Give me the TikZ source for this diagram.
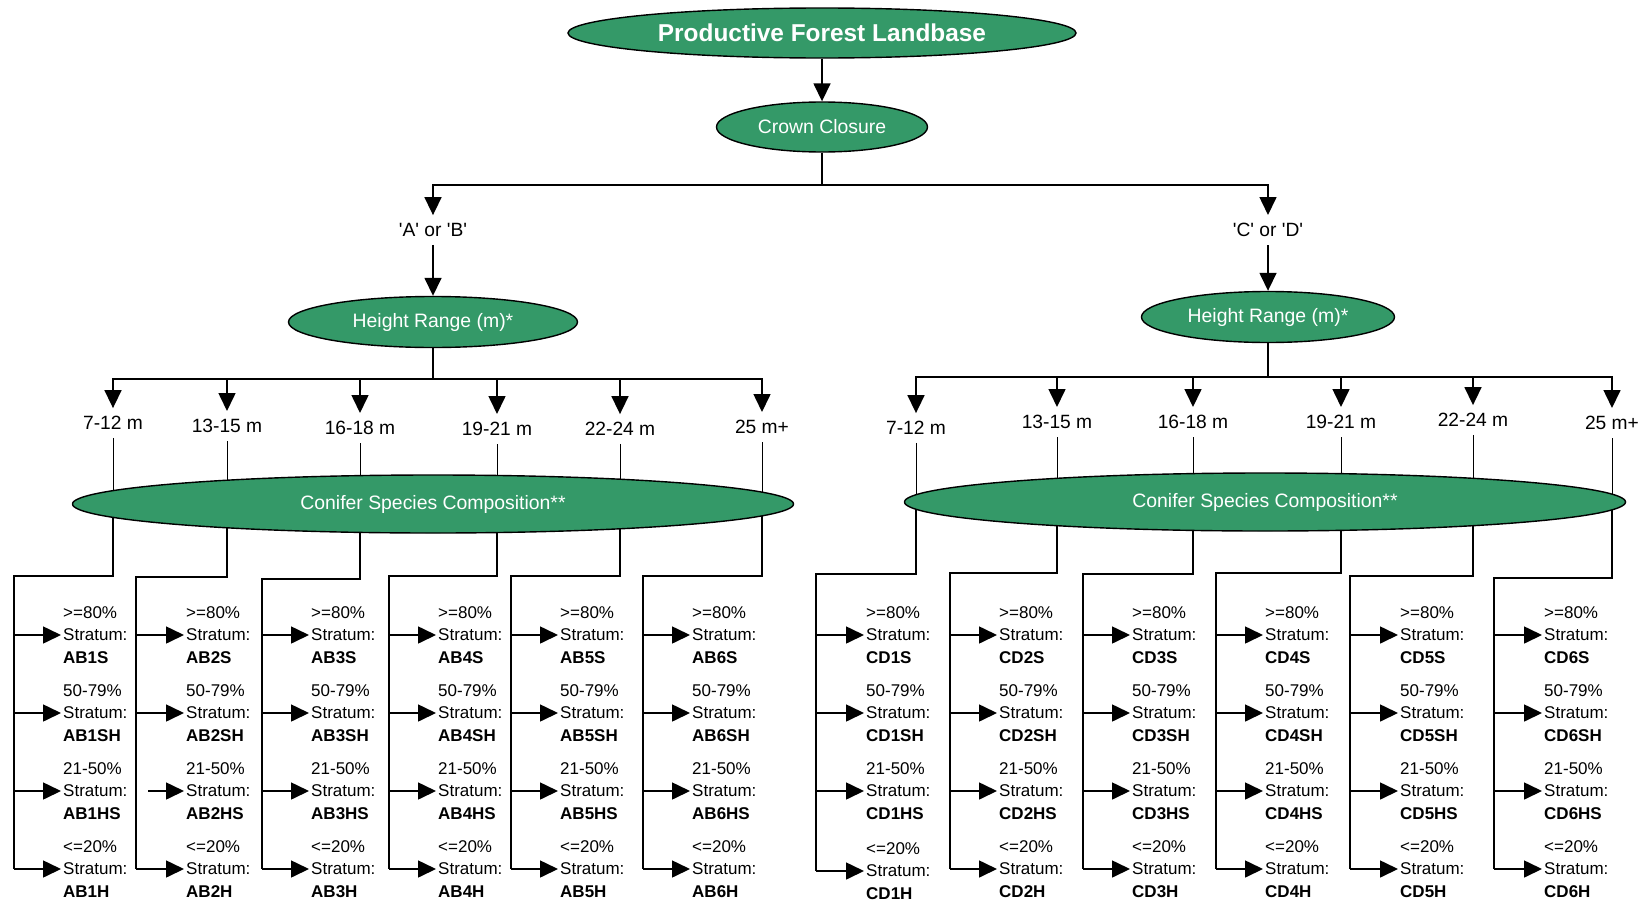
\documentclass[tikz,border=0pt]{standalone}
\usepackage{fontspec}
\setmainfont{Liberation Sans}
\usepackage{tikz}
\usetikzlibrary{shapes.geometric,arrows.meta,backgrounds}
\definecolor{forestgreen}{RGB}{52,153,104}
\newcommand{\linew}{1.6pt}
\newcommand{\q}{\textquotesingle}
\tikzset{
  ell/.style={ellipse, draw=black, line width=1.4pt, fill=forestgreen, text=white, inner sep=0pt, font=\fontsize{19.4}{22}\selectfont},
  lbl/.style={inner xsep=2pt, inner ysep=8pt, font=\fontsize{19.2}{22}\selectfont},
  strat/.style={anchor=west, align=left, inner xsep=2pt, inner ysep=0pt, font=\fontsize{17}{22.5}\selectfont},
  arr/.style={-{Triangle[length=18pt,width=17pt]}, line width=\linew},
  conn/.style={line width=\linew},
  thinconn/.style={line width=1pt}
}

\begin{document}
\begin{tikzpicture}[x=1pt,y=-1pt]
\useasboundingbox (0,0) rectangle (1646,902);
\node[ell, minimum width=508pt, minimum height=50pt, font=\fontsize{24.4}{28}\selectfont\bfseries] (pfl) at (822,33) {Productive Forest Landbase};
\node[ell, minimum width=211pt, minimum height=50pt] (cc) at (822,127) {Crown Closure};
\node[lbl] (ab) at (433,230) {\q A\q{} or \q B\q};
\node[lbl] (cd) at (1268,230) {\q C\q{} or \q D\q};
\node[ell, minimum width=289pt, minimum height=51pt] (hrab) at (433,322) {Height Range (m)*};
\node[ell, minimum width=253pt, minimum height=51pt] (hrcd) at (1268,317) {Height Range (m)*};
\node[ell, minimum width=721pt, minimum height=58pt] (csab) at (433,504) {Conifer Species Composition**};
\node[ell, minimum width=721pt, minimum height=58pt] (cscd) at (1265,502) {Conifer Species Composition**};
%height ranges
\node[lbl] (ab1) at (113,423) {7-12 m};
\node[lbl] (ab2) at (227,426) {13-15 m};
\node[lbl] (ab3) at (360,428) {16-18 m};
\node[lbl] (ab4) at (497,429) {19-21 m};
\node[lbl] (ab5) at (620,429) {22-24 m};
\node[lbl] (ab6) at (762,427) {25 m+};
\node[lbl] (cd1) at (916,428) {7-12 m};
\node[lbl] (cd2) at (1057,422) {13-15 m};
\node[lbl] (cd3) at (1193,422) {16-18 m};
\node[lbl] (cd4) at (1341,422) {19-21 m};
\node[lbl] (cd5) at (1473,420) {22-24 m};
\node[lbl] (cd6) at (1612,423) {25 m+};
%trunks
\coordinate (tab1) at (14,576);
\coordinate (tab2) at (136,577);
\coordinate (tab3) at (262,579);
\coordinate (tab4) at (389,576);
\coordinate (tab5) at (511,576);
\coordinate (tab6) at (643,576);
\coordinate (tcd1) at (816,574);
\coordinate (tcd2) at (950,573);
\coordinate (tcd3) at (1083,574);
\coordinate (tcd4) at (1216,573);
\coordinate (tcd5) at (1350,576);
\coordinate (tcd6) at (1494,578);
%AB1
\node[strat] (ab1a) at (61,635) {>=80\%\\Stratum:\\\textbf{AB1S}};
\node[strat] (ab1b) at (61,713) {50-79\%\\Stratum:\\\textbf{AB1SH}};
\node[strat] (ab1c) at (61,791) {21-50\%\\Stratum:\\\textbf{AB1HS}};
\node[strat] (ab1d) at (61,869) {<=20\%\\Stratum:\\\textbf{AB1H}};
%AB2
\node[strat] (ab2a) at (184,635) {>=80\%\\Stratum:\\\textbf{AB2S}};
\node[strat] (ab2b) at (184,713) {50-79\%\\Stratum:\\\textbf{AB2SH}};
\node[strat] (ab2c) at (184,791) {21-50\%\\Stratum:\\\textbf{AB2HS}};
\node[strat] (ab2d) at (184,869) {<=20\%\\Stratum:\\\textbf{AB2H}};
%AB3
\node[strat] (ab3a) at (309,635) {>=80\%\\Stratum:\\\textbf{AB3S}};
\node[strat] (ab3b) at (309,713) {50-79\%\\Stratum:\\\textbf{AB3SH}};
\node[strat] (ab3c) at (309,791) {21-50\%\\Stratum:\\\textbf{AB3HS}};
\node[strat] (ab3d) at (309,869) {<=20\%\\Stratum:\\\textbf{AB3H}};
%AB4
\node[strat] (ab4a) at (436,635) {>=80\%\\Stratum:\\\textbf{AB4S}};
\node[strat] (ab4b) at (436,713) {50-79\%\\Stratum:\\\textbf{AB4SH}};
\node[strat] (ab4c) at (436,791) {21-50\%\\Stratum:\\\textbf{AB4HS}};
\node[strat] (ab4d) at (436,869) {<=20\%\\Stratum:\\\textbf{AB4H}};
%AB5
\node[strat] (ab5a) at (558,635) {>=80\%\\Stratum:\\\textbf{AB5S}};
\node[strat] (ab5b) at (558,713) {50-79\%\\Stratum:\\\textbf{AB5SH}};
\node[strat] (ab5c) at (558,791) {21-50\%\\Stratum:\\\textbf{AB5HS}};
\node[strat] (ab5d) at (558,869) {<=20\%\\Stratum:\\\textbf{AB5H}};
%AB6
\node[strat] (ab6a) at (690,635) {>=80\%\\Stratum:\\\textbf{AB6S}};
\node[strat] (ab6b) at (690,713) {50-79\%\\Stratum:\\\textbf{AB6SH}};
\node[strat] (ab6c) at (690,791) {21-50\%\\Stratum:\\\textbf{AB6HS}};
\node[strat] (ab6d) at (690,869) {<=20\%\\Stratum:\\\textbf{AB6H}};
%CD1
\node[strat] (cd1a) at (864,635) {>=80\%\\Stratum:\\\textbf{CD1S}};
\node[strat] (cd1b) at (864,713) {50-79\%\\Stratum:\\\textbf{CD1SH}};
\node[strat] (cd1c) at (864,791) {21-50\%\\Stratum:\\\textbf{CD1HS}};
\node[strat] (cd1d) at (864,871) {<=20\%\\Stratum:\\\textbf{CD1H}};
%CD2
\node[strat] (cd2a) at (997,635) {>=80\%\\Stratum:\\\textbf{CD2S}};
\node[strat] (cd2b) at (997,713) {50-79\%\\Stratum:\\\textbf{CD2SH}};
\node[strat] (cd2c) at (997,791) {21-50\%\\Stratum:\\\textbf{CD2HS}};
\node[strat] (cd2d) at (997,869) {<=20\%\\Stratum:\\\textbf{CD2H}};
%CD3
\node[strat] (cd3a) at (1130,635) {>=80\%\\Stratum:\\\textbf{CD3S}};
\node[strat] (cd3b) at (1130,713) {50-79\%\\Stratum:\\\textbf{CD3SH}};
\node[strat] (cd3c) at (1130,791) {21-50\%\\Stratum:\\\textbf{CD3HS}};
\node[strat] (cd3d) at (1130,869) {<=20\%\\Stratum:\\\textbf{CD3H}};
%CD4
\node[strat] (cd4a) at (1263,635) {>=80\%\\Stratum:\\\textbf{CD4S}};
\node[strat] (cd4b) at (1263,713) {50-79\%\\Stratum:\\\textbf{CD4SH}};
\node[strat] (cd4c) at (1263,791) {21-50\%\\Stratum:\\\textbf{CD4HS}};
\node[strat] (cd4d) at (1263,869) {<=20\%\\Stratum:\\\textbf{CD4H}};
%CD5
\node[strat] (cd5a) at (1398,635) {>=80\%\\Stratum:\\\textbf{CD5S}};
\node[strat] (cd5b) at (1398,713) {50-79\%\\Stratum:\\\textbf{CD5SH}};
\node[strat] (cd5c) at (1398,791) {21-50\%\\Stratum:\\\textbf{CD5HS}};
\node[strat] (cd5d) at (1398,869) {<=20\%\\Stratum:\\\textbf{CD5H}};
%CD6
\node[strat] (cd6a) at (1542,635) {>=80\%\\Stratum:\\\textbf{CD6S}};
\node[strat] (cd6b) at (1542,713) {50-79\%\\Stratum:\\\textbf{CD6SH}};
\node[strat] (cd6c) at (1542,791) {21-50\%\\Stratum:\\\textbf{CD6HS}};
\node[strat] (cd6d) at (1542,869) {<=20\%\\Stratum:\\\textbf{CD6H}};
%connectors
\begin{scope}[on background layer]
\draw[arr] (pfl) -- (cc);
\draw[arr] (cc.south) -- ++(0,32) -| (ab.north);
\draw[arr] (cc.south) -- ++(0,32) -| (cd.north);
\draw[arr] (ab) -- (hrab);
\draw[arr] (cd) -- (hrcd);
\draw[arr] (hrab.south) -- ++(0,31) -| (ab1.north);
\draw[arr] (hrab.south) -- ++(0,31) -| (ab2.north);
\draw[arr] (hrab.south) -- ++(0,31) -| (ab3.north);
\draw[arr] (hrab.south) -- ++(0,31) -| (ab4.north);
\draw[arr] (hrab.south) -- ++(0,31) -| (ab5.north);
\draw[arr] (hrab.south) -- ++(0,31) -| (ab6.north);
\draw[arr] (hrcd.south) -- ++(0,34) -| (cd1.north);
\draw[arr] (hrcd.south) -- ++(0,34) -| (cd2.north);
\draw[arr] (hrcd.south) -- ++(0,34) -| (cd3.north);
\draw[arr] (hrcd.south) -- ++(0,34) -| (cd4.north);
\draw[arr] (hrcd.south) -- ++(0,34) -| (cd5.north);
\draw[arr] (hrcd.south) -- ++(0,34) -| (cd6.north);
\draw[thinconn] (ab1.south) -- (ab1 |- csab.center);
\draw[thinconn] (ab2.south) -- (ab2 |- csab.center);
\draw[thinconn] (ab3.south) -- (ab3 |- csab.center);
\draw[thinconn] (ab4.south) -- (ab4 |- csab.center);
\draw[thinconn] (ab5.south) -- (ab5 |- csab.center);
\draw[thinconn] (ab6.south) -- (ab6 |- csab.center);
\draw[thinconn] (cd1.south) -- (cd1 |- cscd.center);
\draw[thinconn] (cd2.south) -- (cd2 |- cscd.center);
\draw[thinconn] (cd3.south) -- (cd3 |- cscd.center);
\draw[thinconn] (cd4.south) -- (cd4 |- cscd.center);
\draw[thinconn] (cd5.south) -- (cd5 |- cscd.center);
\draw[thinconn] (cd6.south) -- (cd6 |- cscd.center);
\draw[conn] (ab1 |- csab.center) |- (tab1) -- (tab1 |- ab1d.west);
\draw[conn] (ab2 |- csab.center) |- (tab2) -- (tab2 |- ab2d.west);
\draw[conn] (ab3 |- csab.center) |- (tab3) -- (tab3 |- ab3d.west);
\draw[conn] (ab4 |- csab.center) |- (tab4) -- (tab4 |- ab4d.west);
\draw[conn] (ab5 |- csab.center) |- (tab5) -- (tab5 |- ab5d.west);
\draw[conn] (ab6 |- csab.center) |- (tab6) -- (tab6 |- ab6d.west);
\draw[conn] (cd1 |- cscd.center) |- (tcd1) -- (tcd1 |- cd1d.west);
\draw[conn] (cd2 |- cscd.center) |- (tcd2) -- (tcd2 |- cd2d.west);
\draw[conn] (cd3 |- cscd.center) |- (tcd3) -- (tcd3 |- cd3d.west);
\draw[conn] (cd4 |- cscd.center) |- (tcd4) -- (tcd4 |- cd4d.west);
\draw[conn] (cd5 |- cscd.center) |- (tcd5) -- (tcd5 |- cd5d.west);
\draw[conn] (cd6 |- cscd.center) |- (tcd6) -- (tcd6 |- cd6d.west);
%AB arrows
\draw[arr] (tab1 |- ab1a.west) -- (ab1a.west);
\draw[arr] (tab1 |- ab1b.west) -- (ab1b.west);
\draw[arr] (tab1 |- ab1c.west) -- (ab1c.west);
\draw[arr] (tab1 |- ab1d.west) -- (ab1d.west);
\draw[arr] (tab2 |- ab2a.west) -- (ab2a.west);
\draw[arr] (tab2 |- ab2b.west) -- (ab2b.west);
\draw[arr] ([xshift=12pt]tab2 |- ab2c.west) -- (ab2c.west);
\draw[arr] (tab2 |- ab2d.west) -- (ab2d.west);
\draw[arr] (tab3 |- ab3a.west) -- (ab3a.west);
\draw[arr] (tab3 |- ab3b.west) -- (ab3b.west);
\draw[arr] (tab3 |- ab3c.west) -- (ab3c.west);
\draw[arr] (tab3 |- ab3d.west) -- (ab3d.west);
\draw[arr] (tab4 |- ab4a.west) -- (ab4a.west);
\draw[arr] (tab4 |- ab4b.west) -- (ab4b.west);
\draw[arr] (tab4 |- ab4c.west) -- (ab4c.west);
\draw[arr] (tab4 |- ab4d.west) -- (ab4d.west);
\draw[arr] (tab5 |- ab5a.west) -- (ab5a.west);
\draw[arr] (tab5 |- ab5b.west) -- (ab5b.west);
\draw[arr] (tab5 |- ab5c.west) -- (ab5c.west);
\draw[arr] (tab5 |- ab5d.west) -- (ab5d.west);
\draw[arr] (tab6 |- ab6a.west) -- (ab6a.west);
\draw[arr] (tab6 |- ab6b.west) -- (ab6b.west);
\draw[arr] (tab6 |- ab6c.west) -- (ab6c.west);
\draw[arr] (tab6 |- ab6d.west) -- (ab6d.west);
%CD arrows
\draw[arr] (tcd1 |- cd1a.west) -- (cd1a.west);
\draw[arr] (tcd1 |- cd1b.west) -- (cd1b.west);
\draw[arr] (tcd1 |- cd1c.west) -- (cd1c.west);
\draw[arr] (tcd1 |- cd1d.west) -- (cd1d.west);
\draw[arr] (tcd2 |- cd2a.west) -- (cd2a.west);
\draw[arr] (tcd2 |- cd2b.west) -- (cd2b.west);
\draw[arr] (tcd2 |- cd2c.west) -- (cd2c.west);
\draw[arr] (tcd2 |- cd2d.west) -- (cd2d.west);
\draw[arr] (tcd3 |- cd3a.west) -- (cd3a.west);
\draw[arr] (tcd3 |- cd3b.west) -- (cd3b.west);
\draw[arr] (tcd3 |- cd3c.west) -- (cd3c.west);
\draw[arr] (tcd3 |- cd3d.west) -- (cd3d.west);
\draw[arr] (tcd4 |- cd4a.west) -- (cd4a.west);
\draw[arr] (tcd4 |- cd4b.west) -- (cd4b.west);
\draw[arr] (tcd4 |- cd4c.west) -- (cd4c.west);
\draw[arr] (tcd4 |- cd4d.west) -- (cd4d.west);
\draw[arr] (tcd5 |- cd5a.west) -- (cd5a.west);
\draw[arr] (tcd5 |- cd5b.west) -- (cd5b.west);
\draw[arr] (tcd5 |- cd5c.west) -- (cd5c.west);
\draw[arr] (tcd5 |- cd5d.west) -- (cd5d.west);
\draw[arr] (tcd6 |- cd6a.west) -- (cd6a.west);
\draw[arr] (tcd6 |- cd6b.west) -- (cd6b.west);
\draw[arr] (tcd6 |- cd6c.west) -- (cd6c.west);
\draw[arr] (tcd6 |- cd6d.west) -- (cd6d.west);
\end{scope}
\end{tikzpicture}
\end{document}
